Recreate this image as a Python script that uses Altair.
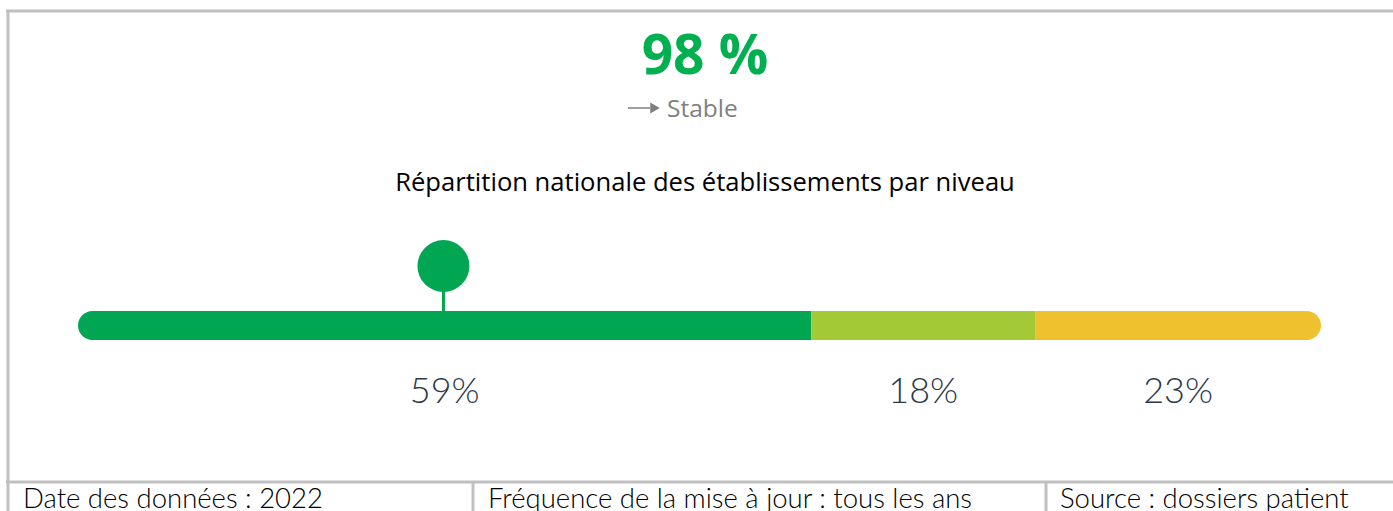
import altair as alt
import pandas as pd

# ---- data ----
niveaux = ["Niveau A", "Niveau B", "Niveau C"]
parts = [59, 18, 23]
couleurs = ["#00a651", "#a3c936", "#efc12f"]
position_etab = 29.4
indicateur = "98 %"
tendance = "Stable"
titre = "Répartition nationale des établissements par niveau"
pied = ["Date des données : 2022", "Fréquence de la mise à jour : tous les ans", "Source : dossiers patient"]

rows = []
cum = 0
for n, p, c in zip(niveaux, parts, couleurs):
    rows.append({"niveau": n, "part": p, "start": cum, "end": cum + p,
                 "mid": cum + p / 2, "label": f"{p}%", "color": c})
    cum += p
df = pd.DataFrame(rows)

W, H = 1393, 511
xscale = alt.Scale(domain=[-78 / 12.43, (W - 78) / 12.43], range=[0, W], nice=False, zero=False)
X = lambda f: alt.X(f, type="quantitative", scale=xscale, axis=None)
X2 = lambda f: alt.X2(f)
colscale = alt.Scale(domain=niveaux, range=couleurs)

base = alt.Chart(df)
bar_y = dict(y=alt.value(311), y2=alt.value(340))

seg_first = base.transform_filter(alt.datum.niveau == niveaux[0]).mark_bar(
    cornerRadiusTopLeft=14.5, cornerRadiusBottomLeft=14.5).encode(
    x=X("start"), x2=X2("end"), color=alt.Color("niveau:N", scale=colscale, legend=None), **bar_y)
seg_mid = base.transform_filter(alt.datum.niveau == niveaux[1]).mark_bar().encode(
    x=X("start"), x2=X2("end"), color=alt.Color("niveau:N", scale=colscale, legend=None), **bar_y)
seg_last = base.transform_filter(alt.datum.niveau == niveaux[2]).mark_bar(
    cornerRadiusTopRight=14.5, cornerRadiusBottomRight=14.5).encode(
    x=X("start"), x2=X2("end"), color=alt.Color("niveau:N", scale=colscale, legend=None), **bar_y)

labels = base.mark_text(fontSize=36, font="Lato", fontWeight=300, color="#2b3848",
                        baseline="alphabetic", align="center").encode(
    x=X("mid"), y=alt.value(403), text="label:N")

mdf = pd.DataFrame({"pos": [position_etab]})
stem = alt.Chart(mdf).mark_rule(color="#00a651", strokeWidth=3).encode(
    x=X("pos"), y=alt.value(285), y2=alt.value(311))
dot = alt.Chart(mdf).mark_point(shape="circle", filled=True, opacity=1, size=2700,
                                color="#00a651").encode(x=X("pos"), y=alt.value(266))

tdf = pd.DataFrame({"t": [indicateur], "s": [tendance], "ti": [titre]})
big = alt.Chart(tdf).mark_text(font="Open Sans", fontWeight="bold", fontSize=55,
                               color="#00b050", align="center", baseline="alphabetic").encode(
    x=alt.value(705), y=alt.value(74), text="t:N")
stable = alt.Chart(tdf).mark_text(font="Open Sans", fontSize=24.5, color="#7f7f7f",
                                  align="left", baseline="alphabetic").encode(
    x=alt.value(667), y=alt.value(117), text="s:N")
arrow_line = alt.Chart(tdf).mark_rule(color="#7f7f7f", strokeWidth=1.5).encode(
    x=alt.value(628), x2=alt.value(650), y=alt.value(108))
arrow_head = alt.Chart(tdf).mark_point(shape="triangle-right", filled=True, opacity=1,
                                       size=120, color="#7f7f7f").encode(
    x=alt.value(655), y=alt.value(108))
title = alt.Chart(tdf).mark_text(font="Open Sans", fontSize=25.6, color="#000000",
                                 align="center", baseline="alphabetic").encode(
    x=alt.value(705), y=alt.value(191), text="ti:N")

# frame & footer table
border = "#c0c0c0"
top_line = alt.Chart(tdf).mark_rule(color=border, strokeWidth=3).encode(
    x=alt.value(6), x2=alt.value(W), y=alt.value(11))
left_line = alt.Chart(tdf).mark_rule(color=border, strokeWidth=3).encode(
    x=alt.value(8), y=alt.value(10), y2=alt.value(H))
foot_line = alt.Chart(tdf).mark_rule(color=border, strokeWidth=3).encode(
    x=alt.value(6), x2=alt.value(W), y=alt.value(482))
sep1 = alt.Chart(tdf).mark_rule(color=border, strokeWidth=3).encode(
    x=alt.value(473), y=alt.value(482), y2=alt.value(H))
sep2 = alt.Chart(tdf).mark_rule(color=border, strokeWidth=3).encode(
    x=alt.value(1046), y=alt.value(482), y2=alt.value(H))

fdf = pd.DataFrame({"txt": pied, "px": [23, 488, 1060]})
footer = alt.Chart(fdf).mark_text(font="Lato", fontWeight=300, fontSize=27.5, color="#000000",
                                  align="left", baseline="alphabetic").encode(
    x=alt.X("px:Q", scale=alt.Scale(domain=[0, W], range=[0, W], nice=False), axis=None),
    y=alt.value(508), text="txt:N")

chart = alt.layer(
    top_line, left_line, foot_line, sep1, sep2,
    big, arrow_line, arrow_head, stable, title,
    seg_first, seg_mid, seg_last, stem, dot, labels, footer,
).resolve_scale(x="independent").properties(
    width=W, height=H, padding=0, autosize=alt.AutoSizeParams(type="none"),
    background="white",
).configure_view(stroke=None)

chart.save("out.html", embed_options={"renderer": "svg", "actions": False})
